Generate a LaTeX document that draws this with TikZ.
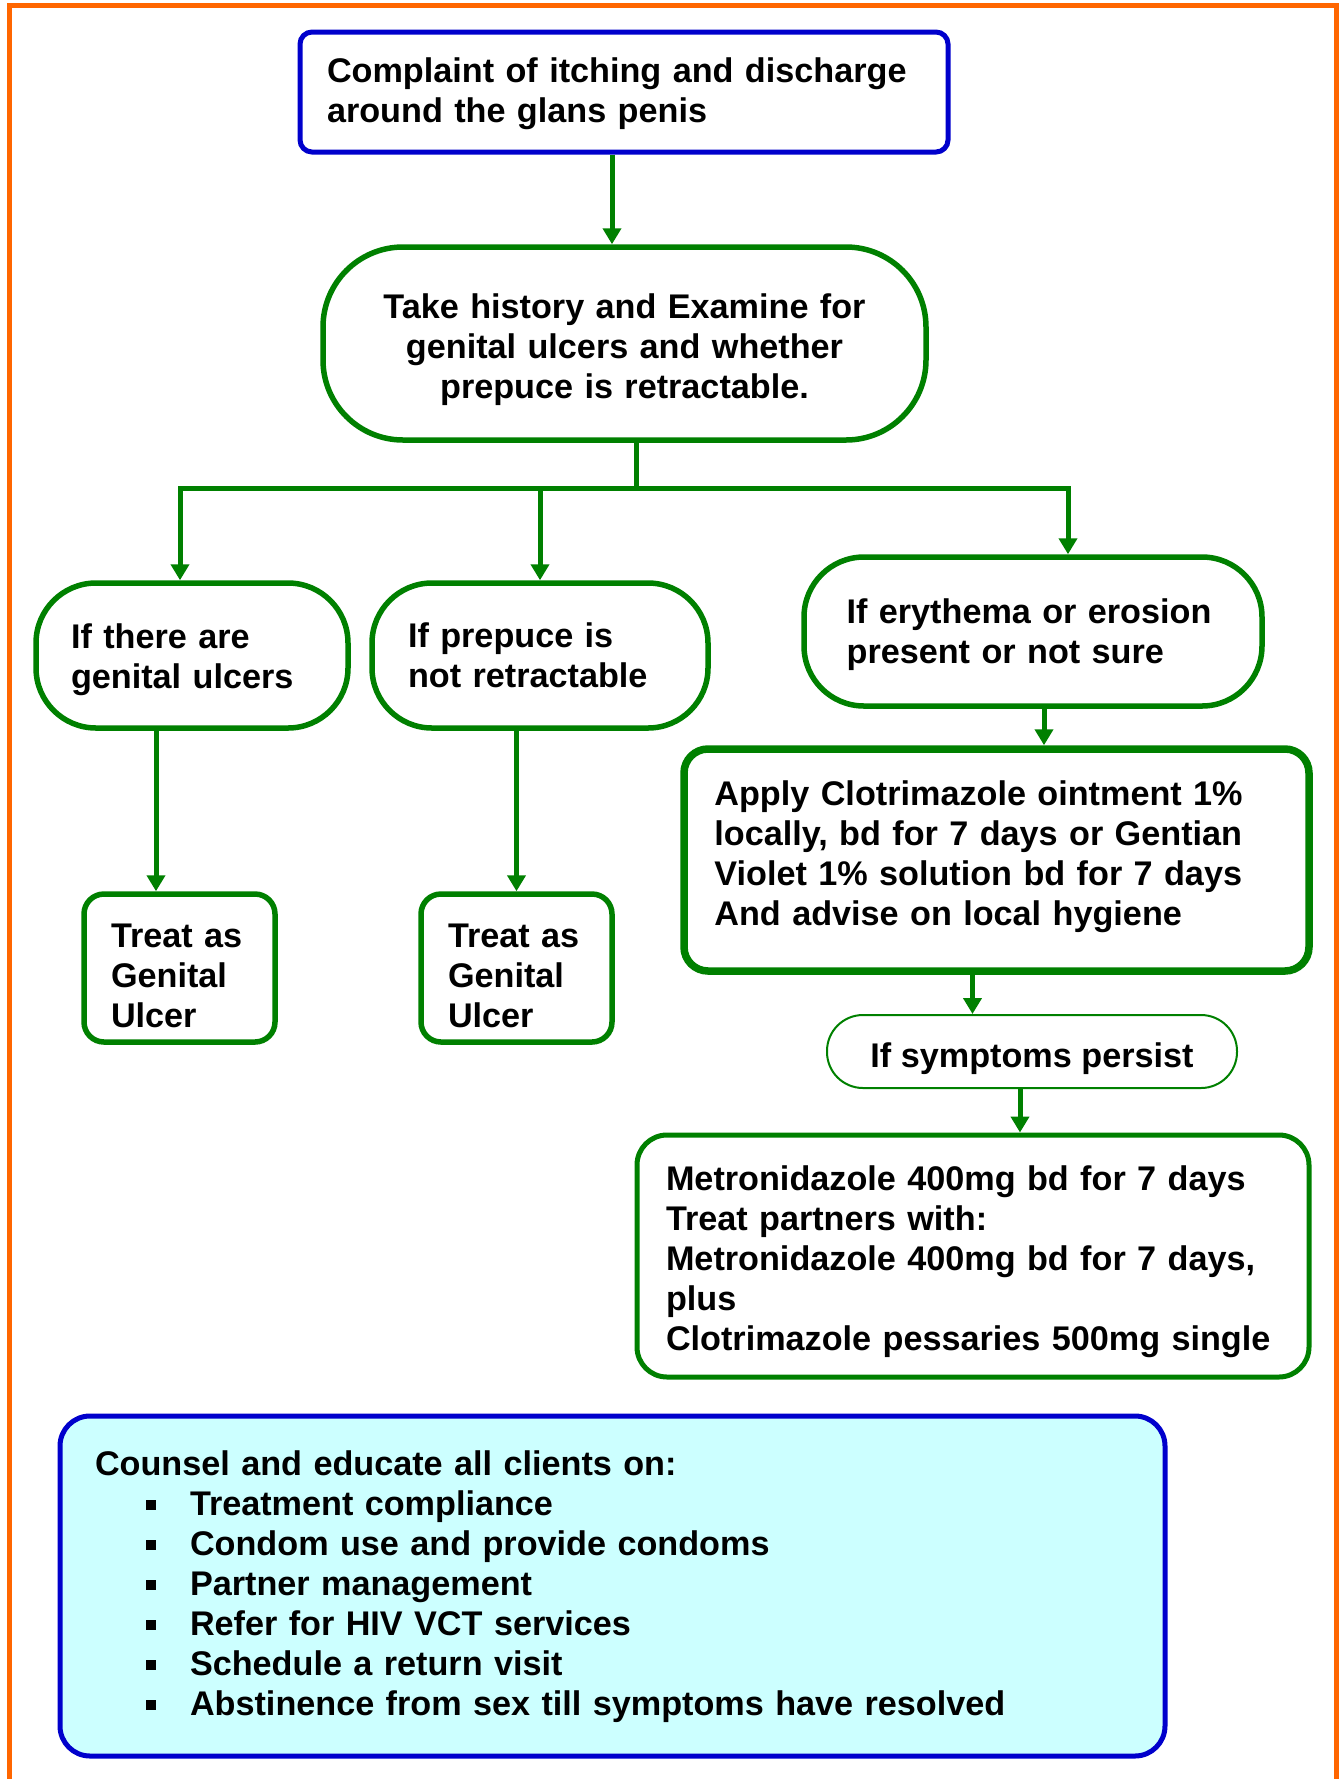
\documentclass[tikz,border=0pt]{standalone}
\usepackage{fontspec}
\setmainfont{Liberation Sans}
\usetikzlibrary{arrows.meta}
\definecolor{flowgreen}{HTML}{008000}
\definecolor{flowblue}{HTML}{0000CC}
\definecolor{frameorange}{HTML}{FF6600}
\definecolor{notecyan}{HTML}{CCFFFF}
\newcommand{\sqitem}[1]{\\\hspace*{25.5pt}\rule[3pt]{5pt}{5pt}\hspace*{17pt}#1}
\tikzset{
  every node/.style={font=\bfseries\fontsize{17.1}{20}\selectfont, inner ysep=0pt},
  box/.style={draw=flowgreen, line width=2.75pt, rounded corners=10pt, align=left},
  term/.style={box, rounded corners=30pt},
  arr/.style={draw=flowgreen, line width=2.5pt, -{Triangle[width=9pt,length=8pt]}},
  flow/.style={draw=flowgreen, line width=2.5pt}
}
\begin{document}
\begin{tikzpicture}[x=0.5pt, y=-0.5pt]
  \useasboundingbox (0,0) rectangle (1341,1779);
  \draw[frameorange, line width=2.5pt] (9,1779) -- (9,5) -- (1336,5) -- (1336,1779);

  % top of the chart
  \node[draw=flowblue, line width=2.5pt, rounded corners=6pt, align=left,
        text width=297pt, inner xsep=13.5pt, text height=14.2pt, minimum height=60pt] (c) at (624,92)
    {Complaint of itching and discharge\\around the glans penis};
  \node[term, rounded corners=40pt, align=center, text width=260pt, inner xsep=20.75pt,
        text height=18.7pt, minimum height=96.5pt] (h) at (624.5,343.5)
    {Take history and Examine for\\genital ulcers and whether\\prepuce is retractable.};

  % the three findings
  \node[term, text width=121pt, inner xsep=17.5pt, text height=17.1pt, minimum height=72.5pt] (u) at (192,655.5)
    {If there are\\genital ulcers};
  \node[term, text width=132pt, inner xsep=18pt, minimum height=72.5pt] (p) at (540,655.5)
    {If prepuce is\\not retractable};
  \node[term, text width=186.4pt, inner xsep=21.3pt, text height=15.3pt, minimum height=74.5pt] (e) at (1033,631.5)
    {If erythema or erosion\\present or not sure};

  \node[box, text width=68.5pt, inner xsep=13.5pt, text height=19.3pt, minimum height=74pt] (tA) at (179.5,968)
    {Treat as\\Genital\\Ulcer};
  \node[box, text width=68.5pt, inner xsep=13.5pt, text height=19.3pt, minimum height=74pt] (tB) at (516.5,968)
    {Treat as\\Genital\\Ulcer};
  \node[box, line width=3.75pt, rounded corners=12pt, text width=282.1pt, inner xsep=15.2pt,
        text height=9.1pt, minimum height=111pt] (a) at (996.5,860)
    {Apply Clotrimazole ointment 1\%\\locally, bd for 7 days or Gentian\\Violet 1\% solution bd for 7 days\\And advise on local hygiene};
  \node[draw=flowgreen, line width=1pt, rounded corners=18pt, minimum width=205pt,
        text height=19.3pt, minimum height=36.5pt] (s) at (1032,1051.5) {If symptoms persist};
  \node[box, line width=2.5pt, rounded corners=15pt, text width=307pt, inner xsep=14.5pt,
        text height=17.9pt, minimum height=121pt] (m) at (973,1256)
    {Metronidazole 400mg bd for 7 days\\Treat partners with:\\Metronidazole 400mg bd for 7 days,\\plus\\Clotrimazole pessaries 500mg single};

  % counselling
  \node[draw=flowblue, fill=notecyan, line width=2.5pt, rounded corners=15pt, align=left,
        text width=517.5pt, inner xsep=17.5pt, text height=13.5pt, minimum height=170pt] (k) at (612.5,1586)
    {Counsel and educate all clients on:
     \sqitem{Treatment compliance}
     \sqitem{Condom use and provide condoms}
     \sqitem{Partner management}
     \sqitem{Refer for HIV VCT services}
     \sqitem{Schedule a return visit}
     \sqitem{Abstinence from sex till symptoms have resolved}};

  % connectors
  \coordinate (c1) at ([xshift=-6pt]c.south);
  \draw[arr] (c1) -- (c1 |- h.north);
  \coordinate (fork) at (636,488);
  \coordinate (barL) at (180,488);
  \coordinate (barM) at (540,488);
  \coordinate (barR) at (1068,488);
  \draw[flow] (fork |- h.south) -- (fork);
  \draw[flow, line cap=rect] (barL) -- (barR);
  \draw[arr] (barL) -- (barL |- u.north);
  \draw[arr] (barM) -- (p.north);
  \draw[arr] (barR) -- (barR |- e.north);
  \coordinate (u1) at ([xshift=-18pt]u.south);
  \draw[arr] (u1) -- (u1 |- tA.north);
  \draw[arr] (tB.north |- p.south) -- (tB.north);
  \coordinate (e1) at ([xshift=5.5pt]e.south);
  \draw[arr] (e1) -- (e1 |- a.north);
  \coordinate (a1) at ([xshift=-12pt]a.south);
  \draw[arr] (a1) -- (a1 |- s.north);
  \coordinate (s1) at ([xshift=-6pt]s.south);
  \draw[arr] (s1) -- (s1 |- m.north);
\end{tikzpicture}
\end{document}
